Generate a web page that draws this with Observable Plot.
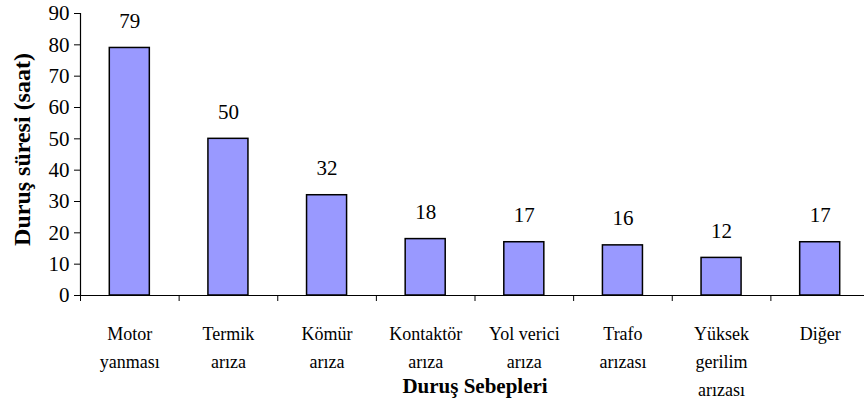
<!DOCTYPE html>
<html>
<head>
<meta charset="utf-8">
<script src="https://cdn.jsdelivr.net/npm/d3@7"></script>
<script src="https://cdn.jsdelivr.net/npm/@observablehq/plot@0.6"></script>
<style>
  html, body { margin: 0; padding: 0; background: #fff; }
  #chart svg { display: block; }
</style>
</head>
<body>
<div id="chart"></div>
<script>
const categories = ["Motor\nyanması", "Termik\narıza", "Kömür\narıza", "Kontaktör\narıza", "Yol verici\narıza", "Trafo\narızası", "Yüksek\ngerilim\narızası", "Diğer"];
const values = [79, 50, 32, 18, 17, 16, 12, 17];
const yTicks = [0, 10, 20, 30, 40, 50, 60, 70, 80, 90];
const yTitle = "Duruş süresi (saat)";
const xTitle = "Duruş Sebepleri";

const data = categories.map((c, i) => ({i, c, v: values[i]}));
const n = categories.length;
const serif = "'Liberation Serif', serif";

const chart = Plot.plot({
  width: 864,
  height: 407,
  marginLeft: 80,
  marginRight: -5,
  marginTop: 13,
  marginBottom: 112,
  style: {fontSize: "20px", color: "black", background: "white"},
  x: {domain: [0, n], axis: null},
  y: {domain: [0, 90], axis: null},
  marks: [
    Plot.axisY(yTicks, {tickSize: 6, tickPadding: 5, fontSize: 21, label: null}),
    Plot.axisX(d3.range(n + 1), {tickSize: 6, tickFormat: () => "", label: null}),
    Plot.rectY(data, {x1: d => d.i, x2: d => d.i + 1, y: "v", insetLeft: 29.3, insetRight: 29.3, fill: "#9999ff", stroke: "black", strokeWidth: 1.5}),
    Plot.ruleX([0], {stroke: "black", strokeWidth: 1.2}),
    Plot.ruleY([0], {stroke: "black", strokeWidth: 1.2}),
    Plot.text(data, {x: d => d.i + 0.5, y: "v", text: d => String(d.v), dy: -20, lineAnchor: "bottom", fontSize: 21}),
    Plot.text(data, {x: d => d.i + 0.5, text: "c", frameAnchor: "bottom", dy: 25, lineAnchor: "top", lineHeight: 1.55, fontSize: 18}),
    Plot.text([xTitle], {frameAnchor: "bottom", dy: 97, lineAnchor: "bottom", fontSize: 21, fontWeight: "bold"}),
    Plot.text([yTitle], {frameAnchor: "left", textAnchor: "middle", dx: -58, dy: -5, rotate: -90, fontSize: 24, fontWeight: "bold", letterSpacing: "1.5px"})
  ]
});
chart.setAttribute("font-family", "Liberation Serif");
chart.style.setProperty("font-family", serif, "important");
chart.querySelectorAll("g").forEach(g => g.setAttribute("font-family", "Liberation Serif"));
chart.querySelectorAll("text, tspan").forEach(t => {
  t.setAttribute("font-family", "Liberation Serif");
  t.style.setProperty("font-family", serif, "important");
});
document.getElementById("chart").appendChild(chart);
</script>
</body>
</html>
